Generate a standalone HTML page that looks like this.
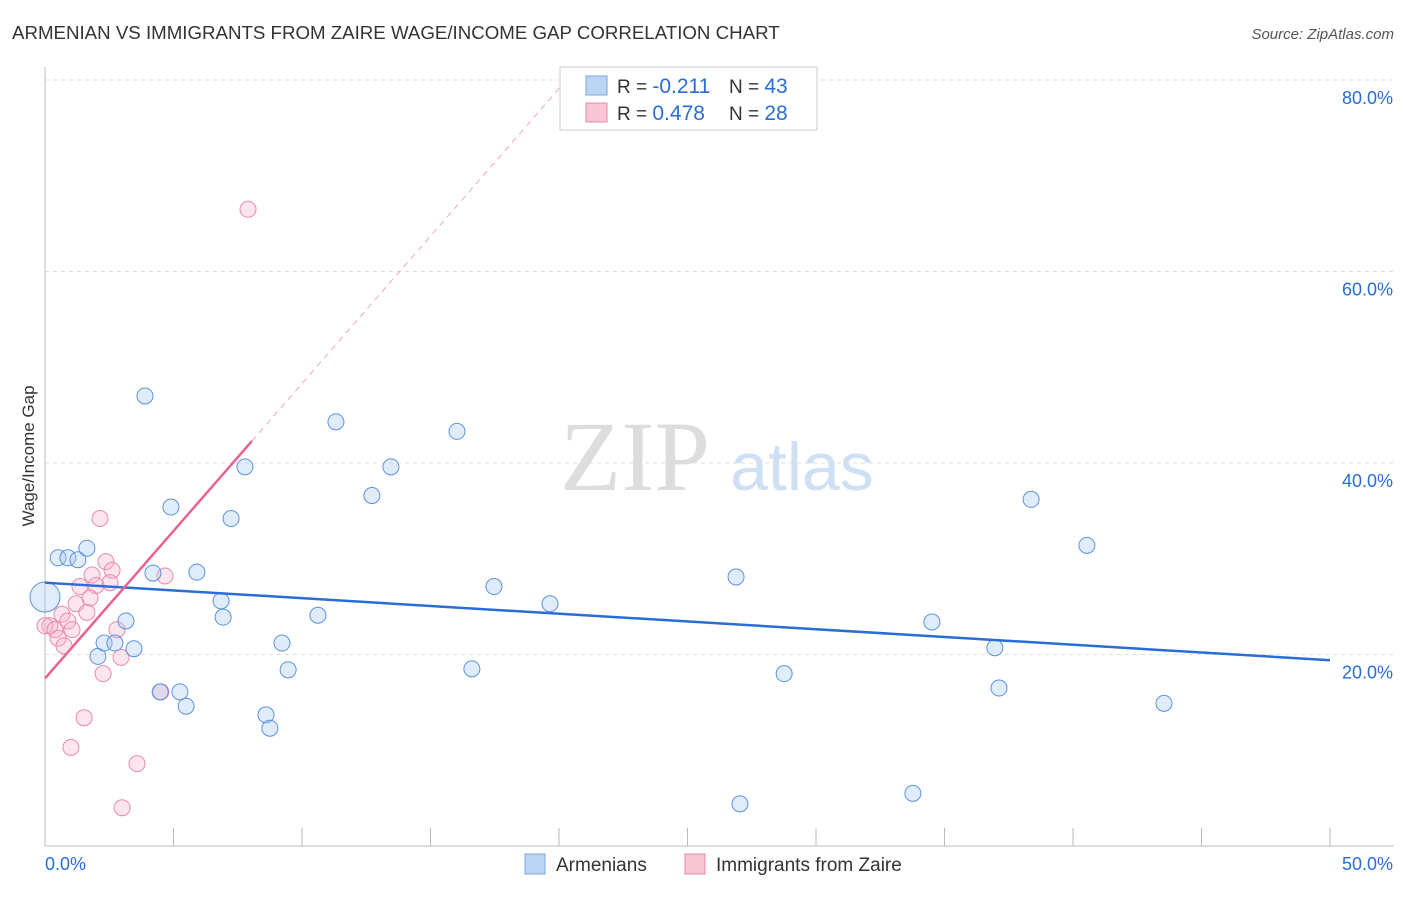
<!DOCTYPE html>
<html><head><meta charset="utf-8"><style>
body{margin:0;background:#fff;font-family:"Liberation Sans",sans-serif;}
</style></head><body>
<svg id="c" width="1406" height="892" xmlns="http://www.w3.org/2000/svg" font-family="Liberation Sans, sans-serif">
<text x="12" y="39" font-size="18.7" fill="#333">ARMENIAN VS IMMIGRANTS FROM ZAIRE WAGE/INCOME GAP CORRELATION CHART</text>
<text x="1394" y="39" font-size="15" fill="#555" text-anchor="end" font-style="italic">Source: ZipAtlas.com</text>
<text x="34" y="456" font-size="17" fill="#333" text-anchor="middle" transform="rotate(-90 34 456)">Wage/Income Gap</text>
<text x="635" y="490" font-size="100" fill="#ddd" style="font-family:'Liberation Serif',serif" text-anchor="middle">ZIP</text>
<text x="802" y="490" font-size="68" fill="#cfe0f5" text-anchor="middle">atlas</text>
<g id="grid"></g><g id="marks"></g>
<g>
<rect x="560" y="67" width="257" height="63" fill="#fff" stroke="#ccc"/>
<rect x="586" y="76" width="21" height="19" fill="#bcd5f5" stroke="#7aa6e0"/>
<rect x="586" y="103" width="21" height="19" fill="#f9c6d6" stroke="#e68aa8"/>
<text x="617" y="93" font-size="19" fill="#333">R = <tspan fill="#2a6dd6" font-size="21">-0.211</tspan></text>
<text x="729" y="93" font-size="19" fill="#333">N = <tspan fill="#2a6dd6" font-size="21">43</tspan></text>
<text x="617" y="120" font-size="19" fill="#333">R = <tspan fill="#2a6dd6" font-size="21"> 0.478</tspan></text>
<text x="729" y="120" font-size="19" fill="#333">N = <tspan fill="#2a6dd6" font-size="21">28</tspan></text>
</g>
<g>
<rect x="525" y="854" width="20" height="20" fill="#bcd5f5" stroke="#7aa6e0"/>
<text x="556" y="871" font-size="19" fill="#333">Armenians</text>
<rect x="685" y="854" width="20" height="20" fill="#f9c6d6" stroke="#e68aa8"/>
<text x="716" y="871" font-size="19" fill="#333">Immigrants from Zaire</text>
</g>
</svg>
<script>
const yTicks=[20,40,60,80];
const yTickLabels=["20.0%","40.0%","60.0%","80.0%"];
const xTickLabels=["0.0%","50.0%"];
const blueX=[0,0.51,0.89,1.28,1.63,2.06,2.30,2.72,3.15,3.46,3.89,4.20,4.48,4.90,5.25,5.49,5.91,6.85,6.93,7.24,7.78,8.60,8.75,9.22,9.46,10.62,11.32,12.72,13.46,16.03,16.61,17.47,19.65,26.89,27.04,28.76,33.77,34.51,36.96,37.12,38.37,40.54,43.54];
const blueY=[26.0,30.1,30.1,29.9,31.1,19.8,21.2,21.2,23.5,20.6,47.0,28.5,16.1,35.4,16.1,14.6,28.6,25.6,23.9,34.2,39.6,13.7,12.3,21.2,18.4,24.1,44.3,36.6,39.6,43.3,18.5,27.1,25.3,28.1,4.4,18.0,5.5,23.4,20.7,16.5,36.2,31.4,14.9];
const pinkX=[7.90,2.14,2.37,2.61,1.83,4.67,1.36,2.53,1.98,1.75,1.21,0.66,1.63,0.89,0.19,0,0.39,1.05,2.80,0.51,0.74,2.96,2.26,4.51,1.52,1.01,3.58,3.00];
const pinkY=[66.5,34.2,29.7,28.8,28.3,28.2,27.1,27.5,27.2,25.9,25.3,24.2,24.4,23.5,23.0,23.0,22.6,22.6,22.6,21.7,20.9,19.7,18.0,16.1,13.4,10.3,8.6,4.0];
const blueTrend=[27.5,19.4];
const pinkTrend=[17.5,3.08];
const X=v=>45+v/50*1285, Y=v=>846-v/20*191.5;
const NS="http://www.w3.org/2000/svg";
function mk(p,t,a){const e=document.createElementNS(NS,t);for(const k in a)e.setAttribute(k,a[k]);p.appendChild(e);return e;}
const g=document.getElementById('grid'), m=document.getElementById('marks');
let ax=mk(g,'line',{x1:45,y1:67,x2:45,y2:846,stroke:'#bbb'});


let bx=mk(g,'line',{x1:45,y1:846,x2:1394,y2:846,stroke:'#bbb'});


for(let i=0;i<=10;i++){const x=X(i*5);const t=mk(g,'line',{x1:x,y1:828,x2:x,y2:846,stroke:'#bbb'});

}
yTicks.forEach((v,i)=>{const l=mk(g,'line',{x1:45,y1:Y(v),x2:1394,y2:Y(v),stroke:'#ddd','stroke-dasharray':'4 4'});


const t=mk(g,'text',{x:1393,y:Y(v)+24,'font-size':18,fill:'#2a6dd6','text-anchor':'end'});t.textContent=yTickLabels[i];

});
xTickLabels.forEach((s,i)=>{const t=mk(g,'text',{x:i?1393:45,y:870,'font-size':18,fill:'#2a6dd6','text-anchor':i?'end':'start'});t.textContent=s;

});
pinkX.forEach((x,i)=>{const c=mk(m,'circle',{cx:X(x),cy:Y(pinkY[i]),r:8,fill:'rgba(247,180,202,0.35)',stroke:'#e88bab','stroke-width':1});

});
blueX.forEach((x,i)=>{const c=mk(m,'circle',{cx:X(x),cy:Y(blueY[i]),r:i==0?15:8,fill:'rgba(170,200,242,0.35)',stroke:'#5b93dc','stroke-width':1});

});
let bl=mk(m,'line',{x1:X(0),y1:Y(blueTrend[0]),x2:X(50),y2:Y(blueTrend[1]),stroke:'#2a6dd6','stroke-width':2.5});


const xe=8.05, xd=(80-pinkTrend[0])/pinkTrend[1];
let pd=mk(m,'line',{x1:X(xe),y1:Y(pinkTrend[0]+pinkTrend[1]*xe),x2:X(xd),y2:Y(80),stroke:'#f0a5bd','stroke-width':1,'stroke-dasharray':'6 5'});


let pl=mk(m,'line',{x1:X(0),y1:Y(pinkTrend[0]),x2:X(xe),y2:Y(pinkTrend[0]+pinkTrend[1]*xe),stroke:'#e8638e','stroke-width':2.5});


</script>
</body></html>
